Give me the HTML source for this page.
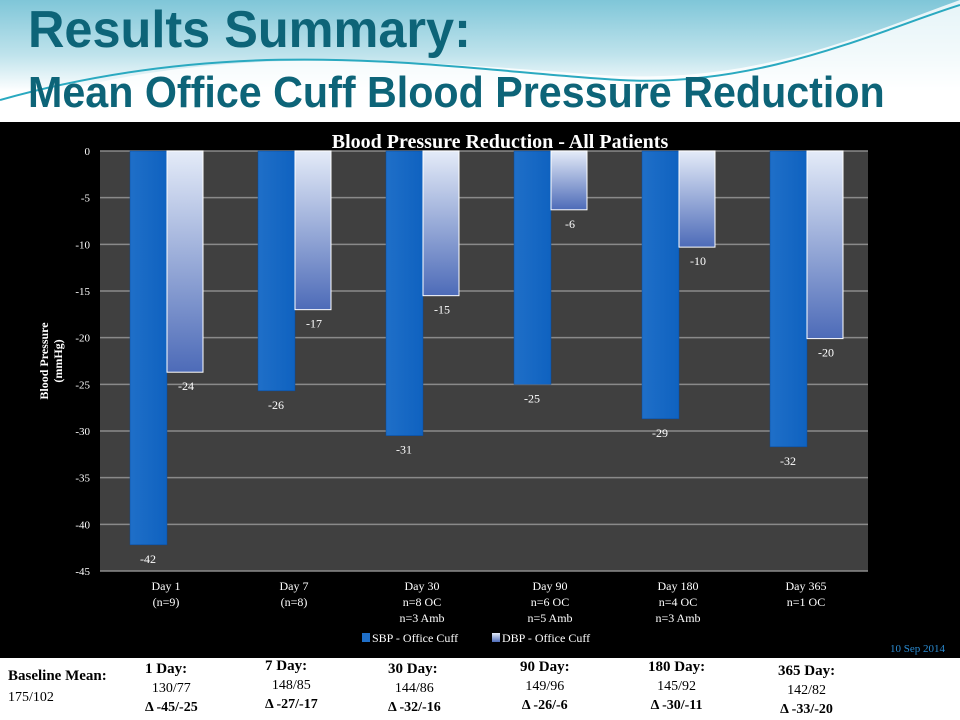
<!DOCTYPE html>
<html><head><meta charset="utf-8"><style>
body{margin:0;width:960px;height:720px;overflow:hidden;background:#fff;font-family:"Liberation Serif",serif;position:relative}
.hdr{position:absolute;left:0;top:0;width:960px;height:122px;background:linear-gradient(180deg,#7fc6d8 0%,#bfe3ec 45%,#ffffff 75%)}
.t1,.t2{position:absolute;left:28px;font-family:"Liberation Sans",sans-serif;font-weight:bold;color:#0d6478;white-space:nowrap;transform-origin:0 0}
.t1{top:0px;font-size:52px;transform:scaleX(0.97)}
.t2{top:68px;font-size:44px;transform:scaleX(0.937)}
.bot{position:absolute;font-family:"Liberation Serif",serif;color:#000;font-size:14px;text-align:center}
</style></head><body>
<div class="hdr">
<svg width="960" height="122" style="position:absolute;left:0;top:0">
<path d="M0,110 C200,40 400,60 600,75 C750,85 850,40 960,0 L960,122 L0,122Z" fill="#fff" opacity="0.8"/>
<path d="M0,100 C250,30 450,70 620,80 C760,88 880,30 960,5" stroke="#2aa9c0" stroke-width="2" fill="none"/>
</svg>
<div class="t1">Results Summary:</div>
<div class="t2">Mean Office Cuff Blood Pressure Reduction</div>
</div>
<svg id="chart" width="960" height="536" style="position:absolute;left:0;top:122px"></svg>
<div class="bot" style="left:8px;top:668px;font-weight:bold;font-size:15px;text-align:left">Baseline Mean:</div>
<div class="bot" style="left:8px;top:690px;text-align:left">175/102</div>
<div id="summ"></div>
<script>
const categories=["Day 1|(n=9)","Day 7|(n=8)","Day 30|n=8 OC|n=3 Amb","Day 90|n=6 OC|n=5 Amb","Day 180|n=4 OC|n=3 Amb","Day 365|n=1 OC"];
const sbpValues=[-42.2,-25.7,-30.5,-25,-28.7,-31.7];
const dbpValues=[-23.7,-17,-15.5,-6.3,-10.3,-20.1];
const sbpLabels=["-42","-26","-31","-25","-29","-32"];
const dbpLabels=["-24","-17","-15","-6","-10","-20"];
const yTicks=[0,-5,-10,-15,-20,-25,-30,-35,-40,-45];
const sumHead=["1 Day:","7 Day:","30 Day:","90 Day:","180 Day:","365 Day:"];
const sumBP=["130/77","148/85","144/86","149/96","145/92","142/82"];
const sumDelta=["Δ -45/-25","Δ -27/-17","Δ -32/-16","Δ -26/-6","Δ -30/-11","Δ -33/-20"];

const NS="http://www.w3.org/2000/svg",svg=document.getElementById('chart');
const X0=100,X1=868,Y0=29,Y1=449;
const y=v=>Y0+(0-v)/45*(Y1-Y0);
const cw=(X1-X0)/categories.length;
function mk(t,a,txt){const e=document.createElementNS(NS,t);for(const k in a)e.setAttribute(k,a[k]);if(txt!=null)e.textContent=txt;svg.appendChild(e);return e;}
let e=mk('rect',{x:0,y:0,width:960,height:536,fill:'#000'});


e=mk('defs',{});
e.innerHTML='<linearGradient id="gs" x1="0" x2="1"><stop offset="0" stop-color="#1f6fc8"/><stop offset="1" stop-color="#0f62c0"/></linearGradient><linearGradient id="gd" x1="0" x2="0" y1="0" y2="1"><stop offset="0" stop-color="#e4ebf8"/><stop offset="1" stop-color="#4d6bb8"/></linearGradient>';
e=mk('rect',{x:X0,y:Y0,width:X1-X0,height:Y1-Y0,fill:'#404040'});


yTicks.forEach(t=>{
 e=mk('line',{x1:X0,x2:X1,y1:y(t),y2:y(t),stroke:'#8a8a8a','stroke-width':1.5});
 
 
 e=mk('text',{x:X0-10,y:y(t)+4,'text-anchor':'end',fill:'#fff','font-size':11},String(t));
 
 
});
categories.forEach((c,i)=>{
 const cx=X0+i*cw;
 e=mk('rect',{x:cx+30,y:y(0),width:37,height:y(sbpValues[i])-y(0),fill:'url(#gs)',stroke:'#0a4a9a','stroke-width':0.5});
 
 
 e=mk('rect',{x:cx+67,y:y(0),width:36,height:y(dbpValues[i])-y(0),fill:'url(#gd)',stroke:'#fff','stroke-width':1});
 
 
 e=mk('text',{x:cx+48,y:y(sbpValues[i])+18,'text-anchor':'middle',fill:'#fff','font-size':12},sbpLabels[i]);
 
 
 e=mk('text',{x:cx+86,y:y(dbpValues[i])+18,'text-anchor':'middle',fill:'#fff','font-size':12},dbpLabels[i]);
 
 
 c.split('|').forEach((l,j)=>{
  e=mk('text',{x:cx+66,y:Y1+19+j*16,'text-anchor':'middle',fill:'#fff','font-size':12},l);
  
  
 });
});
e=mk('text',{x:500,y:26,'text-anchor':'middle',fill:'#fff','font-size':20,'font-weight':'bold'},'Blood Pressure Reduction - All Patients');


e=mk('text',{transform:'translate(48,239) rotate(-90)','text-anchor':'middle',fill:'#fff','font-size':12,'font-weight':'bold'},'Blood Pressure');


e=mk('text',{transform:'translate(62,239) rotate(-90)','text-anchor':'middle',fill:'#fff','font-size':12,'font-weight':'bold'},'(mmHg)');


e=mk('rect',{x:362,y:511,width:8,height:9,fill:'#1f6fc8'});


e=mk('text',{x:372,y:520,fill:'#fff','font-size':12},'SBP - Office Cuff');


e=mk('rect',{x:492,y:511,width:8,height:9,fill:'url(#gd)'});


e=mk('text',{x:502,y:520,fill:'#fff','font-size':12},'DBP - Office Cuff');


e=mk('text',{x:945,y:530,'text-anchor':'end',fill:'#2a8ad0','font-size':11},'10 Sep 2014');



const lefts=[145,265,388,520,648,778],tops=[660,657,660,658,658,662];
const root=document.getElementById('summ');
sumHead.forEach((h,i)=>{
 const d=document.createElement('div');
 d.className='bot';
 d.style.left=lefts[i]+'px';d.style.top=tops[i]+'px';d.style.lineHeight='19px';
 d.innerHTML='<div style="font-weight:bold;font-size:15px;text-align:left">'+h+'</div><div>'+sumBP[i]+'</div><div style="font-weight:bold">'+sumDelta[i]+'</div>';
 
 
 root.appendChild(d);
});
</script>
</body></html>
